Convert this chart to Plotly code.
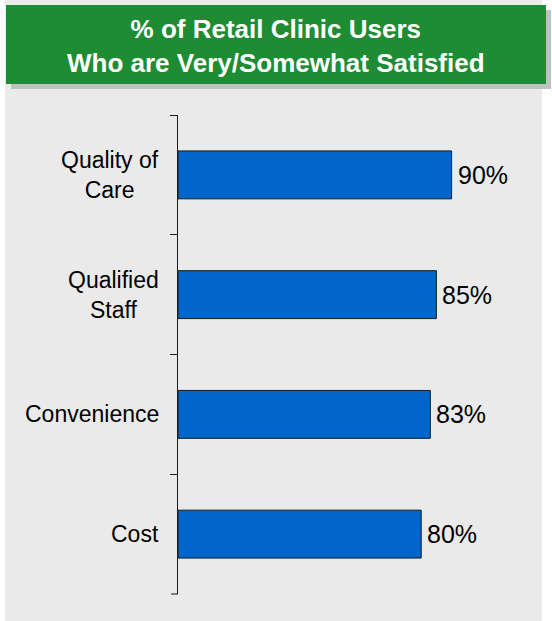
import plotly.graph_objects as go

categories = ["Quality of<br>Care", "Qualified<br>Staff", "Convenience", "Cost"]
values = [90, 85, 83, 80]
value_labels = ["90%", "85%", "83%", "80%"]
title_lines = ["% of Retail Clinic Users", "Who are Very/Somewhat Satisfied"]

W, H = 552, 621
L, R, T, B = 178, 70, 115, 27
PW, PH = W - L - R, H - T - B


def px(x):
    return (x - L) / PW


def py(y):
    return (H - B - y) / PH


FONT = "Arial, 'Liberation Sans', sans-serif"

fig = go.Figure()
fig.add_trace(go.Bar(
    x=values,
    y=categories,
    orientation="h",
    marker=dict(color="#0066CC", line=dict(color="#1a1a1a", width=1)),
    hoverinfo="skip",
))

shapes = [
    dict(type="rect", xref="paper", yref="paper", layer="below",
         x0=px(5), x1=px(542), y0=py(0), y1=py(621),
         fillcolor="#EAEAEA", line=dict(width=0)),
    dict(type="rect", xref="paper", yref="paper", layer="below",
         x0=px(11), x1=px(551), y0=py(10), y1=py(89),
         fillcolor="#C0C0C0", line=dict(width=0)),
    dict(type="rect", xref="paper", yref="paper", layer="below",
         x0=px(6), x1=px(546), y0=py(5), y1=py(84),
         fillcolor="#1E8C32", line=dict(width=0)),
    # closing boundary tick at the bottom end of the category axis
    dict(type="line", xref="paper", yref="paper",
         x0=px(171), x1=px(178), y0=0, y1=0,
         line=dict(color="#1a1a1a", width=1)),
]

annotations = [dict(
    xref="paper", yref="paper",
    x=px(276), y=py(46), xanchor="center", yanchor="middle",
    text="<b>" + "<br>".join(title_lines) + "</b>",
    showarrow=False,
    font=dict(size=26, color="#FFFFFF", family=FONT),
    align="center",
)]
for cat in categories:
    annotations.append(dict(
        xref="paper", yref="y",
        x=px(161), y=cat, xanchor="right", yanchor="middle",
        text=cat, showarrow=False, align="center",
        font=dict(size=23, color="#000000", family=FONT),
    ))
for cat, v, lab in zip(categories, values, value_labels):
    annotations.append(dict(
        xref="x", yref="y",
        x=v, y=cat, xanchor="left", yanchor="middle", xshift=4,
        text=lab, showarrow=False,
        font=dict(size=25, color="#000000", family=FONT),
    ))

fig.update_layout(
    width=W, height=H,
    margin=dict(l=L, r=R, t=T, b=B, pad=0),
    paper_bgcolor="#FFFFFF",
    plot_bgcolor="rgba(0,0,0,0)",
    showlegend=False,
    bargap=0.6,
    shapes=shapes,
    annotations=annotations,
    font=dict(family=FONT, color="#000000"),
    xaxis=dict(range=[0, 100], visible=False, fixedrange=True),
    yaxis=dict(
        range=[3.5, -0.5],
        showline=True, linecolor="#1a1a1a", linewidth=1,
        ticks="outside", ticklen=7, tickcolor="#1a1a1a", tickwidth=1,
        tickson="boundaries",
        showticklabels=False,
        showgrid=False, zeroline=False, fixedrange=True,
    ),
)

fig.write_html("out.html")
